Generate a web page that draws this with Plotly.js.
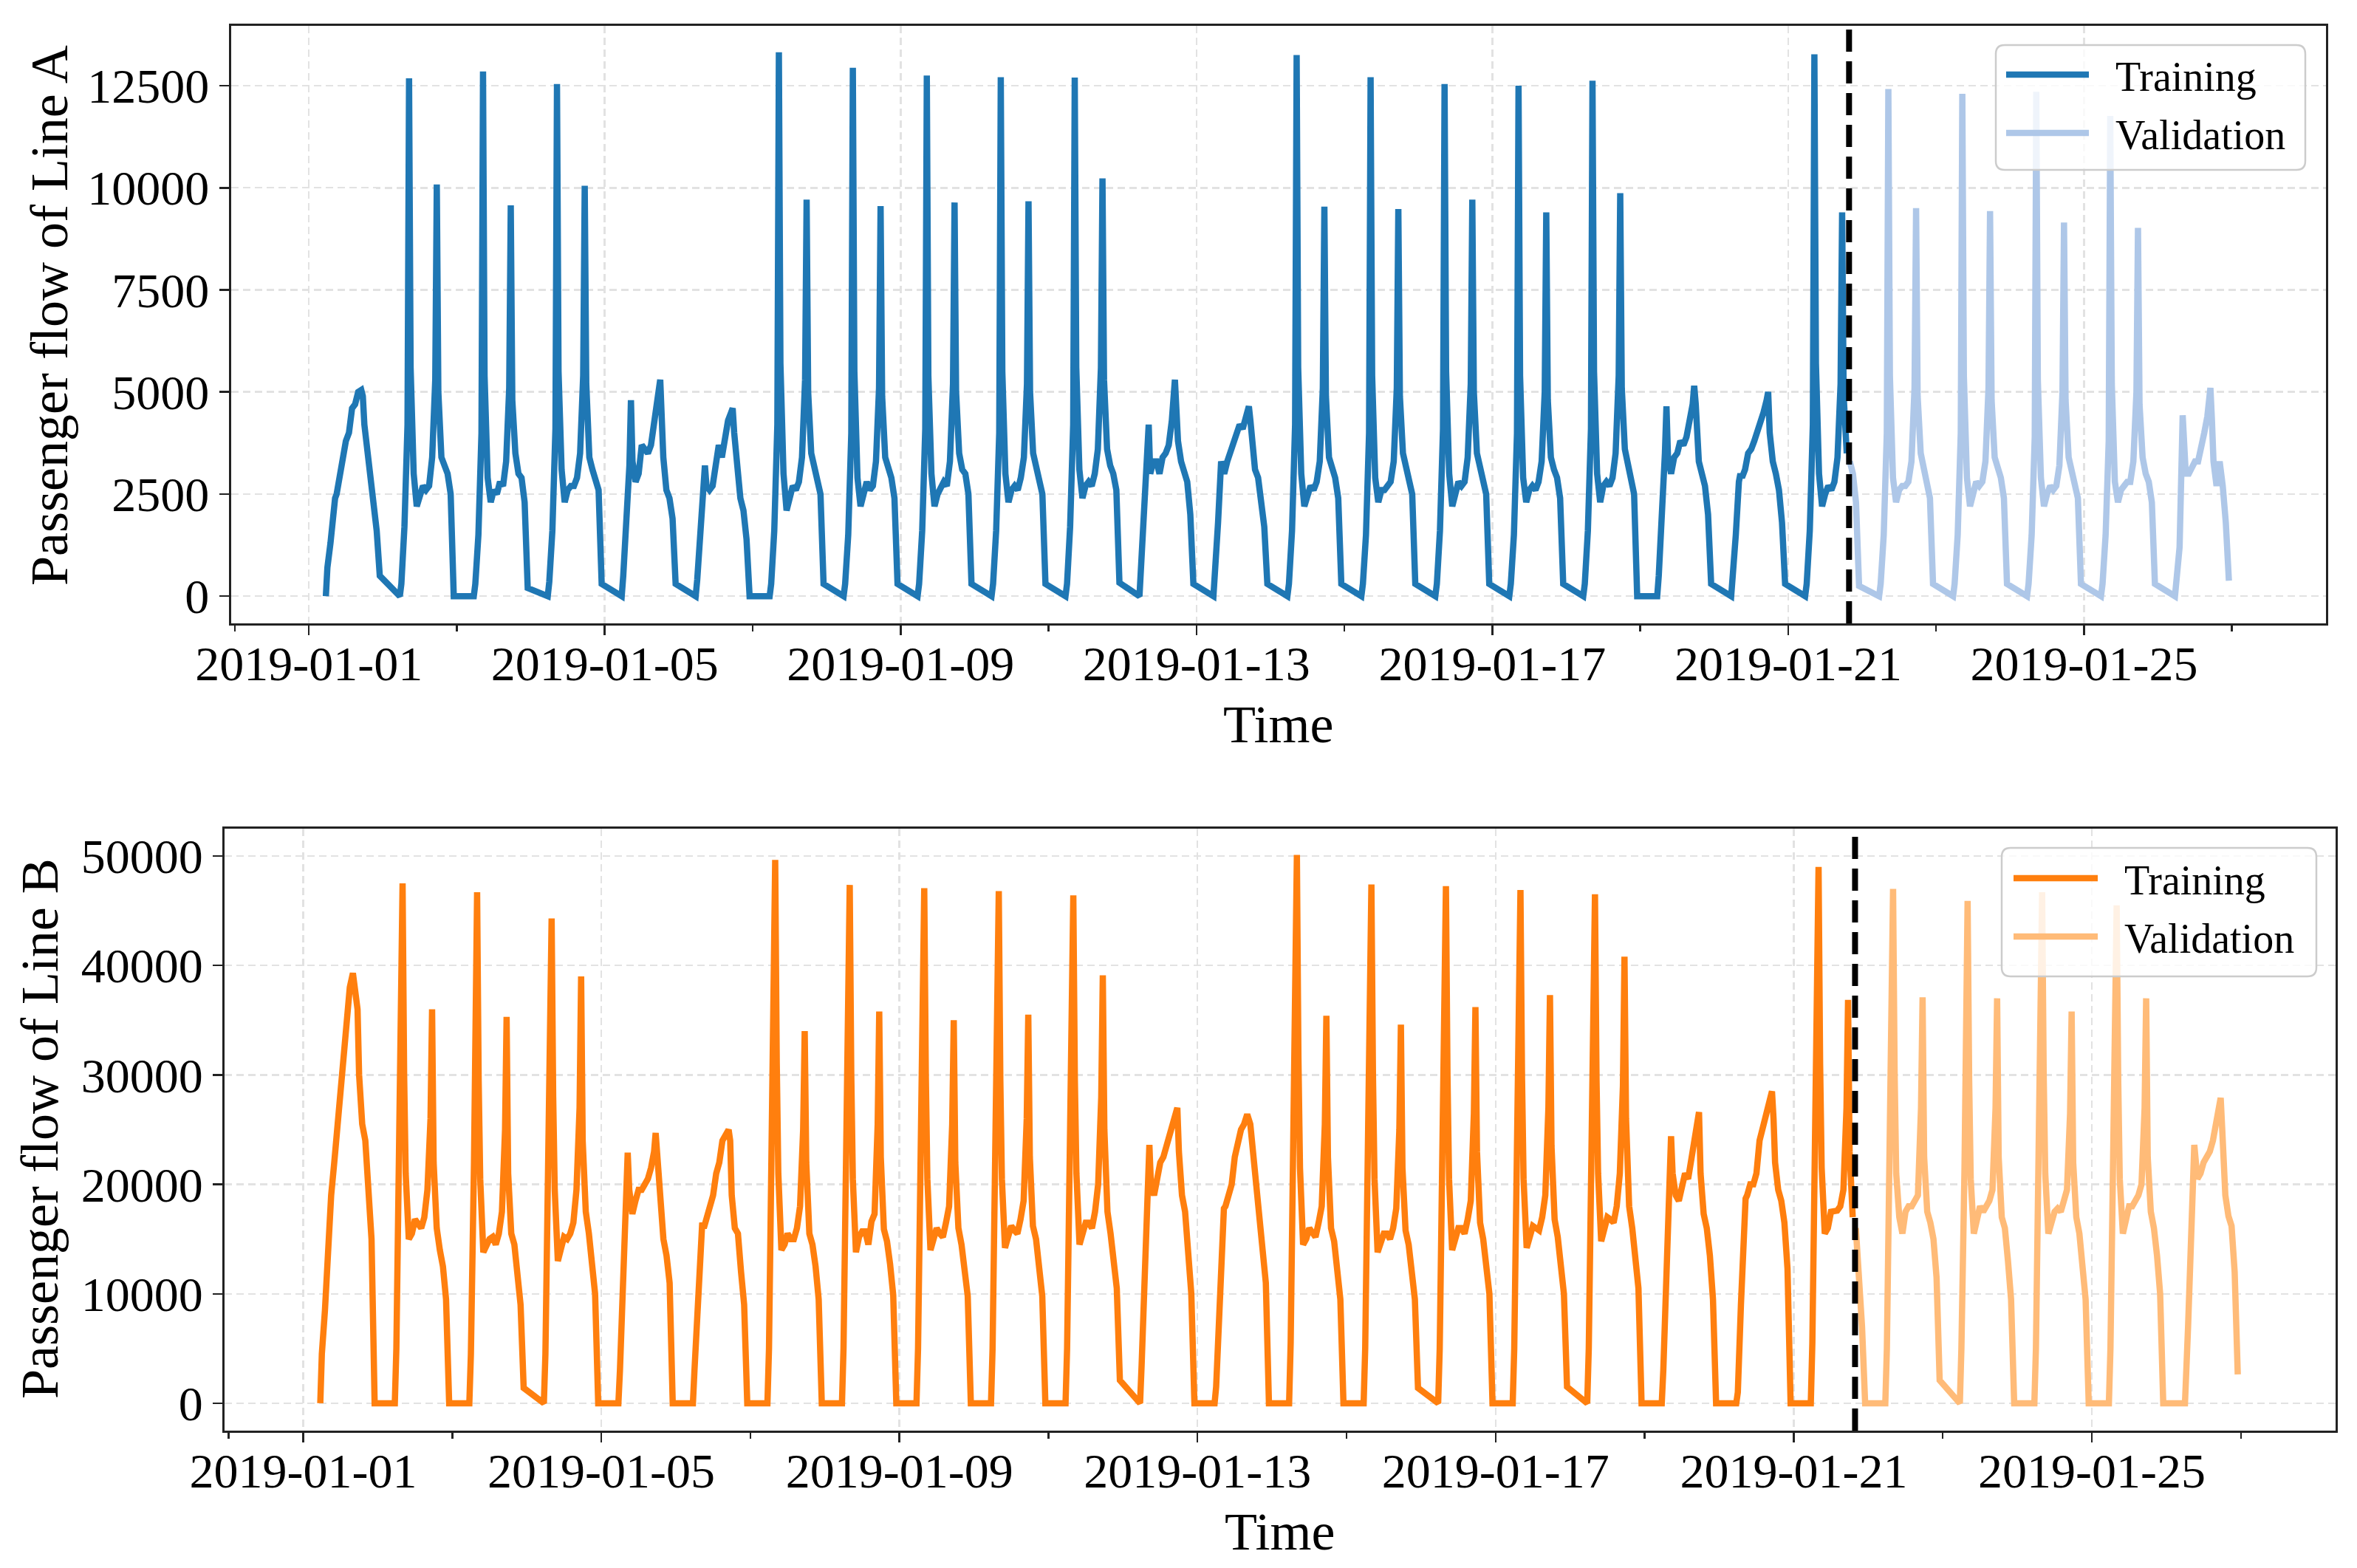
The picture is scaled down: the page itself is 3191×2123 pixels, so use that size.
<!DOCTYPE html>
<html>
<head>
<meta charset="utf-8">
<script src="https://cdn.plot.ly/plotly-3.0.1.min.js"></script>
<style>
  body { margin: 0; background: #fff; }
  #chart { width: 3191px; height: 2123px; }
</style>
</head>
<body>
<div id="chart"></div>
<script>
// sample hours of each service day (night hours have no data)
const HOURS = [5.5, 6, 7, 8, 8.5, 9, 10, 11, 12, 13, 14, 15, 16, 17, 17.5, 18, 19, 20, 21, 22, 23];

const DATES = [
  '2019-01-01', '2019-01-02', '2019-01-03', '2019-01-04', '2019-01-05', '2019-01-06',
  '2019-01-07', '2019-01-08', '2019-01-09', '2019-01-10', '2019-01-11', '2019-01-12',
  '2019-01-13', '2019-01-14', '2019-01-15', '2019-01-16', '2019-01-17', '2019-01-18',
  '2019-01-19', '2019-01-20', '2019-01-21', '2019-01-22', '2019-01-23', '2019-01-24',
  '2019-01-25', '2019-01-26',
];

// one row per date, one value per entry of HOURS
const LINE_A = [
  [0, 700, 1300, 2300, 2400, 2500, 2900, 3500, 3800, 4000, 4600, 4700, 5000, 5050, 4900, 4200, 3600, 3100, 2500, 1600, 500],
  [0, 300, 1700, 4200, 12680, 5600, 3000, 2200, 2500, 2700, 2600, 2700, 3400, 5300, 10080, 5000, 3400, 3200, 3000, 2500, 0],
  [0, 300, 1500, 4000, 12850, 5400, 2900, 2300, 2600, 2500, 2800, 2700, 3300, 5100, 9570, 4800, 3500, 3000, 2900, 2300, 200],
  [0, 350, 1600, 4100, 12540, 5500, 3100, 2300, 2600, 2700, 2700, 2900, 3500, 5400, 10050, 5200, 3400, 3100, 2900, 2600, 300],
  [0, 500, 1600, 3200, 4800, 3300, 2800, 3000, 3700, 3600, 3500, 3700, 4200, 4600, 5000, 5300, 3400, 2600, 2400, 1900, 300],
  [0, 400, 1500, 3000, 3200, 2700, 2600, 2700, 3300, 3700, 3400, 3900, 4300, 4500, 4600, 4000, 3000, 2400, 2100, 1400, 0],
  [0, 300, 1600, 4200, 13320, 5700, 3000, 2100, 2500, 2700, 2600, 2800, 3400, 5300, 9710, 5000, 3500, 3200, 2900, 2500, 300],
  [0, 300, 1500, 4000, 12940, 5500, 2900, 2200, 2600, 2800, 2600, 2700, 3300, 5100, 9550, 4900, 3400, 3100, 2900, 2400, 300],
  [0, 300, 1600, 4100, 12750, 5400, 3000, 2200, 2500, 2700, 2800, 2700, 3300, 5200, 9640, 5000, 3500, 3100, 3000, 2500, 300],
  [0, 300, 1600, 4000, 12710, 5500, 3000, 2300, 2600, 2700, 2600, 2900, 3400, 5200, 9670, 5000, 3500, 3200, 2900, 2500, 300],
  [0, 300, 1700, 4200, 12700, 5600, 3100, 2400, 2700, 2800, 2700, 3000, 3600, 5600, 10230, 5300, 3600, 3200, 3000, 2600, 330],
  [0, 600, 1800, 3400, 4200, 3000, 3300, 3300, 3000, 3400, 3500, 3700, 4300, 5300, 4500, 3800, 3300, 3100, 2800, 2000, 300],
  [0, 500, 1800, 3300, 3100, 3000, 3300, 3500, 3800, 3900, 4200, 4100, 4400, 4650, 4300, 3700, 3100, 2900, 2400, 1700, 300],
  [0, 300, 1600, 4200, 13250, 5600, 3000, 2200, 2500, 2700, 2600, 2800, 3300, 5100, 9540, 4900, 3400, 3100, 2900, 2400, 300],
  [0, 300, 1500, 4000, 12710, 5400, 2900, 2300, 2600, 2600, 2700, 2800, 3300, 5100, 9480, 4900, 3500, 3100, 2900, 2500, 300],
  [0, 300, 1600, 4100, 12540, 5500, 3000, 2200, 2600, 2800, 2700, 2800, 3400, 5200, 9710, 5000, 3500, 3200, 2900, 2500, 300],
  [0, 300, 1500, 4000, 12500, 5400, 2900, 2300, 2600, 2700, 2600, 2800, 3300, 5000, 9400, 4800, 3400, 3100, 2900, 2400, 300],
  [0, 300, 1600, 4100, 12620, 5500, 3000, 2300, 2700, 2800, 2700, 2900, 3500, 5400, 9870, 5100, 3600, 3200, 3000, 2500, 0],
  [0, 500, 1700, 3500, 4650, 3400, 3000, 3400, 3500, 3800, 3700, 3900, 4300, 4700, 5150, 4700, 3300, 3000, 2700, 2000, 300],
  [0, 400, 1500, 2800, 3000, 2900, 3100, 3500, 3600, 3800, 4000, 4200, 4500, 4800, 5000, 4000, 3300, 3000, 2600, 1800, 300],
  [0, 300, 1600, 4200, 13270, 5700, 3000, 2200, 2500, 2700, 2600, 2800, 3400, 5200, 9400, 4900, 3500, 3300, 3000, 2300, 250],
  [0, 300, 1500, 4000, 12420, 5400, 2900, 2300, 2600, 2700, 2700, 2800, 3300, 5100, 9500, 4900, 3500, 3100, 2900, 2400, 300],
  [0, 300, 1500, 4000, 12300, 5400, 2900, 2200, 2600, 2800, 2700, 2800, 3300, 5100, 9430, 4800, 3400, 3100, 2900, 2400, 300],
  [0, 300, 1500, 3900, 12350, 5300, 2900, 2200, 2500, 2700, 2600, 2700, 3200, 5000, 9150, 4800, 3400, 3100, 2800, 2400, 300],
  [0, 300, 1500, 3800, 11760, 5200, 2800, 2300, 2600, 2700, 2800, 2800, 3300, 5000, 9020, 4700, 3400, 3000, 2800, 2300, 300],
  [0, 300, 1200, 4430, 3400, 3000, 3000, 3200, 3300, 3300, 3600, 4000, 4400, 5100, 4300, 3300, 2700, 3300, 2700, 1800, 380],
];

const LINE_B = [
  [0, 4500, 8500, 15500, 17200, 19000, 22000, 25500, 29000, 31800, 36000, 38000, 39300, 37400, 36000, 30000, 25500, 24000, 19500, 15000, 0],
  [0, 5000, 23000, 47500, 30000, 21000, 15000, 15500, 16800, 16500, 16000, 17000, 19500, 26000, 36000, 22000, 16000, 14000, 12500, 9500, 0],
  [0, 4500, 22000, 46700, 29500, 20500, 13800, 14500, 15000, 15200, 14500, 15500, 17500, 25000, 35300, 21000, 15500, 14500, 12000, 9000, 1400],
  [0, 4500, 21000, 44300, 28000, 19500, 13000, 14000, 15200, 15000, 15500, 16500, 19500, 27000, 39000, 24000, 17500, 15500, 13000, 10000, 0],
  [0, 3000, 11000, 21000, 22900, 19500, 17300, 18500, 19500, 19500, 20000, 20500, 21500, 23000, 24700, 22500, 19000, 15000, 13500, 11000, 0],
  [0, 3000, 9000, 15500, 16500, 16000, 17000, 17500, 19000, 21000, 22000, 24000, 24500, 25000, 24000, 19000, 16000, 15500, 12000, 9000, 0],
  [0, 5000, 23000, 49650, 31000, 21000, 14000, 14500, 15500, 15000, 15000, 16000, 18000, 25000, 34000, 22000, 15500, 14500, 12500, 9500, 0],
  [0, 5000, 22000, 47360, 30000, 20500, 13800, 15200, 15700, 15700, 14500, 16600, 17300, 25500, 35800, 22500, 15900, 14800, 12700, 9900, 0],
  [0, 5000, 22000, 47070, 30000, 20500, 14000, 15000, 16000, 15500, 15200, 16500, 18000, 25500, 35000, 22000, 16000, 14500, 12500, 9800, 0],
  [0, 5000, 22000, 46800, 29500, 20500, 14200, 15000, 16200, 15800, 15500, 16800, 18500, 26000, 35500, 22500, 16200, 15000, 12800, 9800, 0],
  [0, 5000, 22000, 46400, 29500, 21000, 14500, 15800, 16500, 16500, 16000, 17500, 20000, 28000, 39100, 25000, 17500, 15500, 13500, 10500, 2100],
  [0, 3500, 10500, 18500, 23600, 20000, 19000, 20500, 22000, 22500, 23500, 24500, 25000, 26000, 27000, 23000, 19000, 17500, 14000, 10000, 0],
  [0, 1500, 8000, 16500, 17800, 18000, 19000, 20000, 22500, 24000, 25000, 25500, 26400, 25500, 24000, 22000, 19500, 17500, 14000, 11000, 0],
  [0, 5500, 23500, 50100, 31500, 21500, 14500, 15000, 16000, 15500, 15200, 16500, 18000, 25500, 35400, 22500, 16000, 14800, 12500, 9500, 0],
  [0, 5000, 22000, 47400, 30000, 20500, 13800, 14800, 15500, 15500, 15000, 16000, 17800, 25000, 34600, 21500, 15800, 14500, 12200, 9500, 1400],
  [0, 5000, 22000, 47250, 30000, 20500, 14000, 15000, 16000, 16000, 15500, 16800, 18500, 26500, 36200, 23000, 16500, 15000, 12800, 10000, 0],
  [0, 5000, 22000, 46900, 29800, 20500, 14200, 15300, 16200, 16000, 15800, 17000, 19000, 27000, 37300, 23500, 16800, 15200, 13000, 10000, 1500],
  [0, 5000, 22000, 46500, 29500, 21000, 14800, 16000, 17000, 16800, 16500, 18000, 21000, 29000, 40800, 26000, 18000, 16000, 13500, 10500, 0],
  [0, 3000, 11000, 19000, 24400, 21000, 19000, 18500, 20000, 21000, 20500, 22500, 23500, 25500, 26600, 21000, 17300, 16000, 13500, 9500, 0],
  [0, 1000, 9000, 18000, 18700, 19000, 20000, 20000, 21000, 24000, 25000, 26000, 27500, 28500, 26000, 22000, 19500, 18500, 16500, 12300, 0],
  [0, 5500, 23000, 49000, 31000, 21500, 15500, 16000, 17500, 17500, 17600, 18000, 19500, 27000, 36850, 23000, 17000, 16000, 11600, 7000, 0],
  [0, 5000, 22000, 47000, 30000, 21000, 17000, 15500, 17500, 18000, 18000, 18500, 19000, 27000, 37100, 22500, 17500, 16500, 15000, 11500, 2100],
  [0, 5000, 21500, 45900, 29500, 20500, 15500, 17000, 18000, 17500, 18000, 18500, 19500, 27000, 37000, 22500, 17000, 16000, 13000, 9500, 0],
  [0, 5000, 22000, 46700, 30000, 21000, 15500, 16500, 17500, 17800, 17500, 18500, 19500, 26500, 35800, 22000, 17000, 15500, 13000, 9500, 0],
  [0, 5000, 21500, 45500, 29500, 20500, 15500, 17000, 18000, 18000, 18500, 19000, 20000, 27000, 37000, 22500, 17500, 16000, 13500, 10000, 0],
  [0, 0, 7000, 16000, 20000, 23600, 20500, 21000, 22000, 22500, 23000, 24000, 25500, 26500, 27900, 25000, 19000, 17100, 16200, 12000, 2640],
];

const SPLIT_TIME = '2019-01-21 19:45';
const SERIES_NAMES = ['Training', 'Validation'];
const MAJOR_TICKS = ['2019-01-01', '2019-01-05', '2019-01-09', '2019-01-13', '2019-01-17', '2019-01-21', '2019-01-25'];
const MINOR_TICKS = ['2018-12-31', '2019-01-03', '2019-01-07', '2019-01-11', '2019-01-15', '2019-01-19', '2019-01-23', '2019-01-27'];
const Y_TICKS_A = [0, 2500, 5000, 7500, 10000, 12500];
const Y_TICKS_B = [0, 10000, 20000, 30000, 40000, 50000];

const W = 3191;
const H = 2123;
const FONT = 'Liberation Serif, Times New Roman, serif';
const COLORS_A = ['#1f77b4', '#aec7e8'];
const COLORS_B = ['#ff7f0e', '#ffbb78'];
const LINE_W = 8.5;

// pixel position -> paper fraction
const px = (x) => x / W;
const py = (y) => 1 - y / H;

function stamp(date, hour) {
  const hh = Math.floor(hour);
  const mm = Math.round((hour - hh) * 60);
  return `${date} ${String(hh).padStart(2, '0')}:${String(mm).padStart(2, '0')}`;
}

function splitSeries(rows) {
  const train = { x: [], y: [] };
  const val = { x: [], y: [] };
  DATES.forEach((date, d) => {
    HOURS.forEach((hour, i) => {
      const t = stamp(date, hour);
      const part = t < SPLIT_TIME ? train : val;
      part.x.push(t);
      part.y.push(rows[d][i]);
    });
  });
  return [train, val];
}

function makeTraces(rows, colors, xa, ya) {
  return splitSeries(rows).map((s, k) => ({
    x: s.x,
    y: s.y,
    name: SERIES_NAMES[k],
    type: 'scatter',
    mode: 'lines',
    xaxis: xa,
    yaxis: ya,
    showlegend: false,
    line: { color: colors[k], width: LINE_W },
  }));
}

function xAxis(domain, anchor) {
  return {
    domain,
    anchor,
    type: 'date',
    range: ['2018-12-30 22:40', '2019-01-28 06:30'],
    tickmode: 'array',
    tickvals: MAJOR_TICKS,
    ticktext: MAJOR_TICKS,
    ticks: 'outside',
    ticklen: 13,
    tickwidth: 2.5,
    tickcolor: '#222',
    ticklabelstandoff: -18,
    minor: {
      tickmode: 'array',
      tickvals: MINOR_TICKS,
      ticks: 'outside',
      ticklen: 8,
      tickwidth: 2.5,
      tickcolor: '#222',
      showgrid: false,
    },
    showgrid: true,
    gridcolor: '#e2e2e2',
    gridwidth: 2.5,
    griddash: '10px,6px',
    showline: true,
    linecolor: '#222',
    linewidth: 3,
    mirror: true,
    zeroline: false,
    tickfont: { family: FONT, size: 66, color: '#000' },
  };
}

function yAxis(domain, anchor, range, ticks) {
  return {
    domain,
    anchor,
    range,
    tickmode: 'array',
    tickvals: ticks,
    ticktext: ticks.map(String),
    ticks: 'outside',
    ticklen: 13,
    tickwidth: 2.5,
    tickcolor: '#222',
    showgrid: true,
    gridcolor: '#e2e2e2',
    gridwidth: 2.5,
    griddash: '10px,6px',
    showline: true,
    linecolor: '#222',
    linewidth: 3,
    mirror: true,
    zeroline: false,
    tickfont: { family: FONT, size: 66, color: '#000' },
  };
}

function roundRect(x0, y0, x1, y1, r) {
  const X = (v) => px(v).toFixed(5);
  const Y = (v) => py(v).toFixed(5);
  return `M${X(x0 + r)},${Y(y0)} L${X(x1 - r)},${Y(y0)} Q${X(x1)},${Y(y0)} ${X(x1)},${Y(y0 + r)}`
    + ` L${X(x1)},${Y(y1 - r)} Q${X(x1)},${Y(y1)} ${X(x1 - r)},${Y(y1)}`
    + ` L${X(x0 + r)},${Y(y1)} Q${X(x0)},${Y(y1)} ${X(x0)},${Y(y1 - r)}`
    + ` L${X(x0)},${Y(y0 + r)} Q${X(x0)},${Y(y0)} ${X(x0 + r)},${Y(y0)} Z`;
}

// hand-made legend so the line samples can be as long as in the original
function legend(box, lineX, textX, rowsY, colors) {
  const shapes = [{
    type: 'path', xref: 'paper', yref: 'paper', layer: 'above',
    path: roundRect(box[0], box[1], box[2], box[3], 12),
    fillcolor: 'rgba(255,255,255,0.8)',
    line: { color: '#cccccc', width: 2.5 },
  }];
  const annotations = [];
  SERIES_NAMES.forEach((name, k) => {
    shapes.push({
      type: 'line', xref: 'paper', yref: 'paper', layer: 'above',
      x0: px(lineX[0]), x1: px(lineX[1]), y0: py(rowsY[k]), y1: py(rowsY[k]),
      line: { color: colors[k], width: LINE_W },
    });
    annotations.push({
      text: name, xref: 'paper', yref: 'paper', x: px(textX), y: py(rowsY[k] + 3),
      xanchor: 'left', yanchor: 'middle', showarrow: false,
      font: { family: FONT, size: 56, color: '#000' },
    });
  });
  return { shapes, annotations };
}

function axisTitle(text, x, y, angle) {
  return {
    text, xref: 'paper', yref: 'paper', x: px(x), y: py(y),
    xanchor: 'center', yanchor: 'middle', showarrow: false, textangle: angle,
    font: { family: FONT, size: 72, color: '#000' },
  };
}

const traces = [
  ...makeTraces(LINE_A, COLORS_A, 'x', 'y'),
  ...makeTraces(LINE_B, COLORS_B, 'x2', 'y2'),
];

const legA = legend([2702, 61, 3121, 230], [2716, 2828], 2862, [101, 180], COLORS_A);
const legB = legend([2710, 1148, 3136, 1322], [2726, 2840], 2874, [1189, 1268], COLORS_B);

const splitLine = (xref, yref) => ({
  type: 'line', xref, yref, layer: 'above',
  x0: SPLIT_TIME, x1: SPLIT_TIME, y0: 0, y1: 1,
  line: { color: '#000', width: 8, dash: '30px,13px' },
});

const layout = {
  width: W,
  height: H,
  margin: { l: 0, r: 0, t: 0, b: 0 },
  paper_bgcolor: '#fff',
  plot_bgcolor: '#fff',
  showlegend: false,
  font: { family: FONT, color: '#000' },
  xaxis: xAxis([px(312.5), px(3149)], 'y'),
  yaxis: yAxis([py(844), py(35)], 'x', [-665, 13965], Y_TICKS_A),
  xaxis2: xAxis([px(304), px(3162)], 'y2'),
  yaxis2: yAxis([py(1937), py(1122)], 'x2', [-2500, 52500], Y_TICKS_B),
  shapes: [
    splitLine('x', 'y domain'),
    splitLine('x2', 'y2 domain'),
    ...legA.shapes,
    ...legB.shapes,
  ],
  annotations: [
    axisTitle('Passenger flow of Line A', 67, 427, -90),
    axisTitle('Time', 1730, 981, 0),
    axisTitle('Passenger flow of Line B', 54, 1528, -90),
    axisTitle('Time', 1733, 2074, 0),
    ...legA.annotations,
    ...legB.annotations,
  ],
};

Plotly.newPlot('chart', traces, layout, { staticPlot: true, displayModeBar: false });
</script>
</body>
</html>
